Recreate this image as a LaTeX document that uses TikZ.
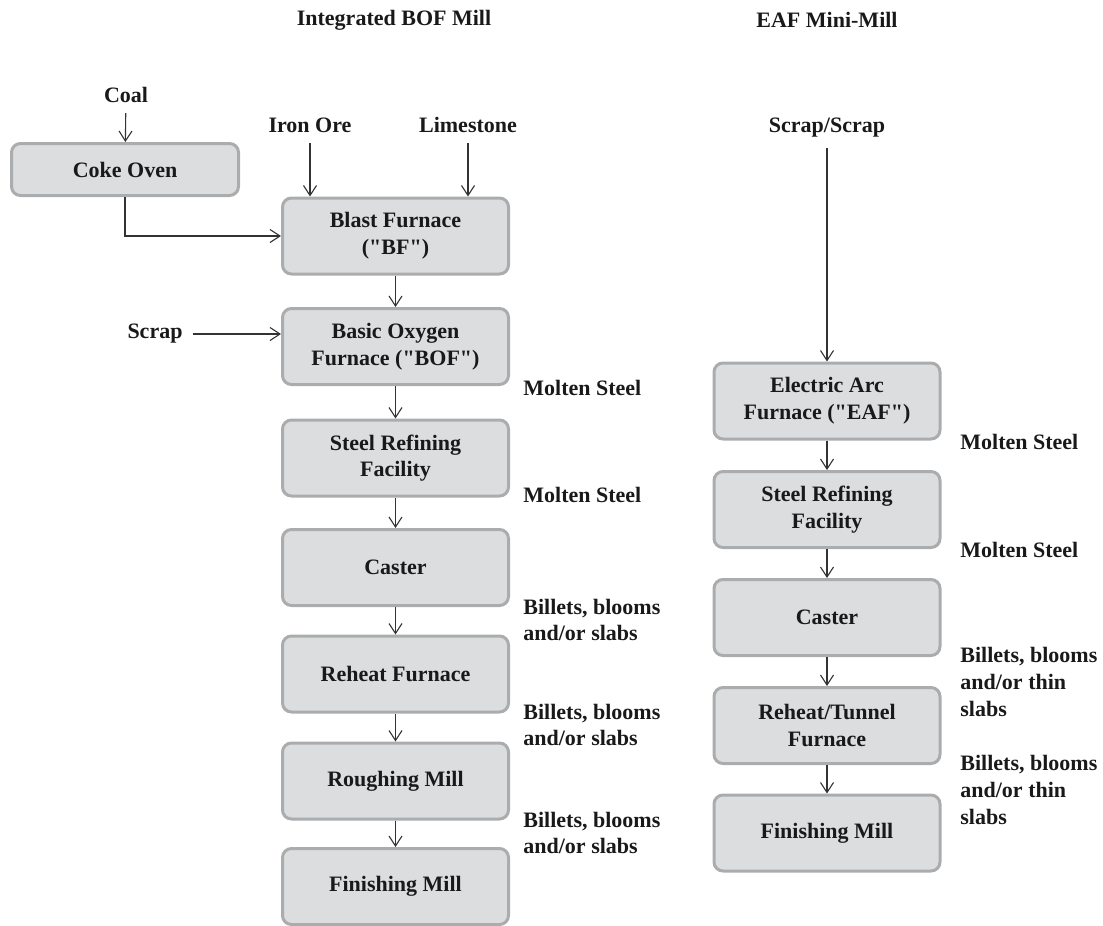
\documentclass[tikz,border=0pt]{standalone}
\usepackage{fontspec}
\setmainfont{Liberation Serif}
\usepackage{xcolor}
\usepackage{tikz}
\usetikzlibrary{arrows.meta,positioning,calc}
\definecolor{boxfill}{HTML}{DCDDDF}
\definecolor{boxline}{HTML}{ABACAE}
\definecolor{arrowline}{HTML}{333333}
\newcommand{\qt}{\textquotedbl}
\tikzset{
  txt/.style={font=\bfseries\fontsize{11}{13.3}\selectfont, text=black!90},
  box/.style={txt, draw=boxline, line width=1.5pt, rounded corners=4.5pt, align=center, minimum width=113pt, minimum height=38pt, fill=boxfill, inner sep=2pt},
  input/.style={txt, inner sep=5pt},
  note/.style={txt, align=left, anchor=west, inner sep=0pt},
  arrow/.style={-{Straight Barb[length=5pt, width=6.5pt]}, draw=arrowline, line width=0.55pt}
}

\begin{document}
\begin{tikzpicture}[x=0.5pt, y=-0.5pt]
  \useasboundingbox (0,0) rectangle (1103,926);

  % column titles
  \node[txt] (titleBOF) at (394,20) {Integrated BOF Mill};
  \node[txt] (titleEAF) at (827,20) {EAF Mini-Mill};

  % integrated BOF mill
  \node[input] (coal) at (126,95) {Coal};
  \node[box, minimum width=113.5pt, minimum height=26pt] (coke) at (125,169.5) {Coke Oven};
  \node[input] (ironore) at (310,125) {Iron Ore};
  \node[input] (limestone) at (468,125) {Limestone};
  \node[box] (bf) at (395.5,236) {Blast Furnace\\(\qt BF\qt)};
  \node[input] (scrapL) at (155,334) {Scrap};
  \node[box] (bof) at (395.5,346.5) {Basic Oxygen\\Furnace (\qt BOF\qt)};
  \node[box] (refL) at (395.5,458) {Steel Refining\\Facility};
  \node[box] (castL) at (395.5,567.5) {Caster};
  \node[box] (reheatL) at (395.5,674) {Reheat Furnace};
  \node[box] (roughL) at (395.5,781) {Roughing Mill};
  \node[box] (finL) at (395.5,886.5) {Finishing Mill};

  \node[note] (moltenL1) at (523,388) {Molten Steel};
  \node[note] (moltenL2) at (523,495) {Molten Steel};
  \node[note] (billetsL1) at (523,620) {Billets, blooms\\and/or slabs};
  \node[note] (billetsL2) at (523,725) {Billets, blooms\\and/or slabs};
  \node[note] (billetsL3) at (523,833) {Billets, blooms\\and/or slabs};

  \draw[arrow] (coal) -- (coke);
  \draw[arrow] (ironore) -- (ironore |- bf.north);
  \draw[arrow] (limestone) -- (limestone |- bf.north);
  \draw[arrow] (coke.south) |- (bf.west);
  \draw[arrow] (scrapL.east) -- (scrapL.east -| bof.west);
  \draw[arrow] (bf) -- (bof);
  \draw[arrow] (bof) -- (refL);
  \draw[arrow] (refL) -- (castL);
  \draw[arrow] (castL) -- (reheatL);
  \draw[arrow] (reheatL) -- (roughL);
  \draw[arrow] (roughL) -- (finL);

  % EAF mini-mill
  \node[input] (scrapR) at (827,128) {Scrap/Scrap};
  \node[box] (eaf) at (827,401) {Electric Arc\\Furnace (\qt EAF\qt)};
  \node[box] (refR) at (827,509.5) {Steel Refining\\Facility};
  \node[box] (castR) at (827,617.5) {Caster};
  \node[box] (reheatR) at (827,725.5) {Reheat/Tunnel\\Furnace};
  \node[box] (finR) at (827,833) {Finishing Mill};

  \node[note] (moltenR1) at (960,442) {Molten Steel};
  \node[note] (moltenR2) at (960,550) {Molten Steel};
  \node[note] (billetsR1) at (960,682) {Billets, blooms\\and/or thin\\slabs};
  \node[note] (billetsR2) at (960,790) {Billets, blooms\\and/or thin\\slabs};

  \draw[arrow] (scrapR) -- (eaf);
  \draw[arrow] (eaf) -- (refR);
  \draw[arrow] (refR) -- (castR);
  \draw[arrow] (castR) -- (reheatR);
  \draw[arrow] (reheatR) -- (finR);
\end{tikzpicture}
\end{document}
